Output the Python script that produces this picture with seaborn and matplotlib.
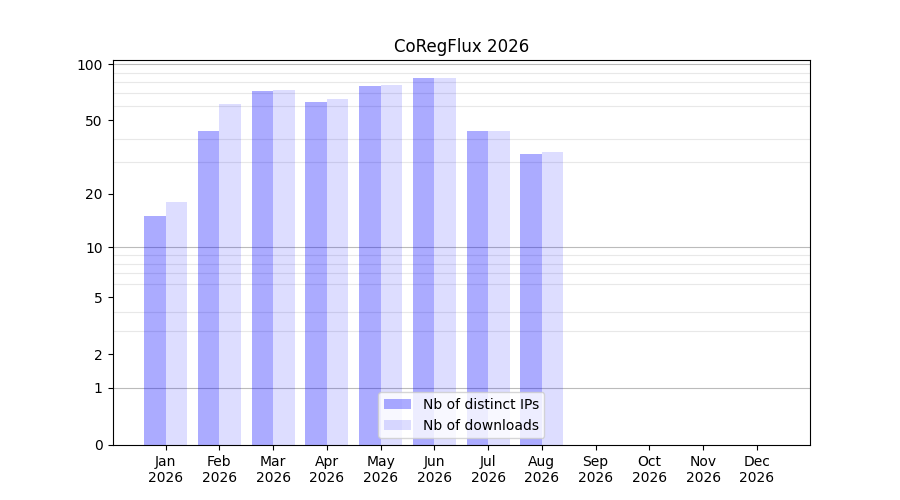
import numpy as np
import pandas as pd
import seaborn as sns
import matplotlib
matplotlib.use("Agg")
import matplotlib.pyplot as plt


months = ["Jan", "Feb", "Mar", "Apr", "May", "Jun", "Jul", "Aug", "Sep", "Oct", "Nov", "Dec"]
year = "2026"
distinct_ips = [15, 44, 72, 63, 76, 84, 44, 33, 0, 0, 0, 0]
downloads = [18, 61, 73, 65, 77, 84, 44, 34, 0, 0, 0, 0]
series = ["Nb of distinct IPs", "Nb of downloads"]
y_ticks = [0, 1, 2, 5, 10, 20, 50, 100]
minor_grid = [2, 3, 4, 5, 6, 7, 8, 9, 20, 30, 40, 50, 60, 70, 80, 90]
major_grid = [1, 10, 100]
alphas = [0.33, 0.135]

df = pd.DataFrame({
    "month": months * 2,
    "value": distinct_ips + downloads,
    "series": [series[0]] * len(months) + [series[1]] * len(months),
})

fig, ax = plt.subplots(figsize=(9, 5), dpi=100)

sns.barplot(data=df, x="month", y="value", hue="series", order=months,
            palette=["blue", "blue"], saturation=1, width=0.8, ax=ax, zorder=2)

# semi-transparent bars like the original
for cont, a in zip(ax.containers, alphas):
    for bar in cont:
        bar.set_alpha(a)

ax.set_yscale("function", functions=(lambda v: np.log10(1 + np.clip(v, 0, None)),
                                     lambda t: 10 ** t - 1))
top = np.log10(1 + max(max(distinct_ips), max(downloads))) * 1.05
ax.set_ylim(0, 10 ** top - 1)
ax.set_yticks(y_ticks)
ax.set_yticklabels([str(t) for t in y_ticks])
ax.set_yticks(minor_grid, minor=True)
ax.tick_params(axis="y", which="minor", length=0)
ax.grid(axis="y", which="minor", color="#e8e8e8", linewidth=0.8, zorder=0)
for g in major_grid:
    ax.axhline(g, color="#bbbbbb", linewidth=0.8, zorder=1)

ax.set_xlim(-0.99, 11.99)
ax.set_xticks(range(len(months)))
ax.set_xticklabels([f"{m}\n{year}" for m in months])
ax.set_xlabel("")
ax.set_ylabel("")
ax.set_title("CoRegFlux 2026")

leg = ax.legend(loc="lower center")
for h, a in zip(leg.legend_handles, alphas):
    h.set_alpha(a)

fig.savefig("out.png", dpi=100)
